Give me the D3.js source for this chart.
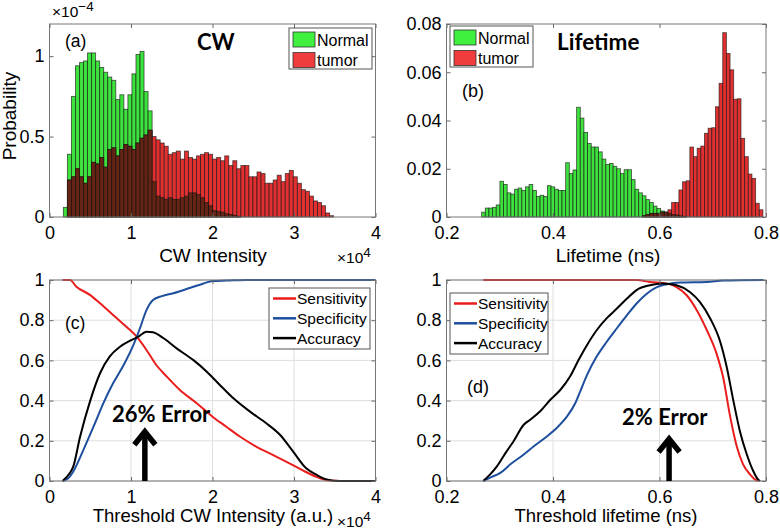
<!DOCTYPE html>
<html>
<head>
<meta charset="utf-8">
<script src="https://cdn.jsdelivr.net/npm/d3@7"></script>
<style>
  body { margin: 0; background: #fff; }
  text { font-family: "Liberation Sans", Arial, sans-serif; }
  .bold { font-family: Lato, "Open Sans", sans-serif; font-weight: bold; }
</style>
</head>
<body>
<svg id="chart" width="780" height="531"></svg>
<script>
// ---- data ----

// (a) CW intensity histograms, probability in units of 1e-4
var cwBinStart = 1700, cwBinWidth = 495;
var cwNormal = [0.06, 0.39, 0.75, 0.94, 0.96, 0.97, 1.02, 1.02, 0.97, 0.93, 0.90, 0.87, 0.85, 0.73, 0.76, 0.67,
  0.76, 0.89, 1.01, 1.03, 0.78, 0.66, 0.22, 0.13, 0.12, 0.11, 0.12, 0.11, 0.11, 0.12, 0.13, 0.15, 0.15, 0.14,
  0.12, 0.09, 0.07, 0.04, 0.035, 0.03, 0.02, 0.015, 0.01, 0.005];
var cwTumor = [0, 0.23, 0.25, 0.30, 0.25, 0.21, 0.25, 0.34, 0.33, 0.37, 0.31, 0.42, 0.43, 0.38, 0.42, 0.45, 0.44,
  0.42, 0.46, 0.49, 0.51, 0.54, 0.50, 0.48, 0.46, 0.44, 0.39, 0.40, 0.41, 0.36, 0.41, 0.37, 0.36, 0.38, 0.39,
  0.40, 0.39, 0.36, 0.37, 0.35, 0.38, 0.32, 0.35, 0.30, 0.32, 0.32, 0.25, 0.25, 0.28, 0.27, 0.21, 0.21, 0.23,
  0.26, 0.22, 0.27, 0.29, 0.25, 0.21, 0.17, 0.16, 0.13, 0.10, 0.09, 0.07, 0.025, 0.008];

// (b) lifetime histograms
var ltBinStart = 0.266, ltBinWidth = 0.00686;
var ltNormal = [0.002, 0.0037, 0.0037, 0.0040, 0.0050, 0.0148, 0.0135, 0.0100, 0.0095, 0.0115, 0.0120, 0.0110,
  0.0125, 0.0135, 0.0110, 0.0085, 0.0090, 0.0085, 0.0130, 0.0125, 0.0115, 0.0110, 0.0110, 0.0225, 0.0180,
  0.0195, 0.0455, 0.0410, 0.0350, 0.0305, 0.0290, 0.0290, 0.0270, 0.0240, 0.0218, 0.0222, 0.0210, 0.0200,
  0.0180, 0.0196, 0.0196, 0.0155, 0.0115, 0.0100, 0.0088, 0.0072, 0.0060, 0.0045, 0.0035, 0.0025, 0.0020,
  0.0015, 0.0010, 0.0008, 0.0005, 0.0003];
var ltTumor = [0, 0, 0, 0, 0, 0, 0, 0, 0, 0, 0, 0, 0, 0, 0, 0, 0, 0, 0, 0, 0, 0, 0, 0, 0, 0, 0, 0, 0, 0, 0, 0,
  0, 0, 0, 0, 0, 0, 0, 0, 0, 0, 0, 0, 0.0005, 0.001, 0.0015, 0.0015, 0.0015, 0.002, 0.002, 0.003,
  0.006, 0.006, 0.0112, 0.0146, 0.015, 0.029, 0.025, 0.0285, 0.0294, 0.0347, 0.0368, 0.037, 0.0457, 0.0554,
  0.0764, 0.0678, 0.061, 0.0488, 0.049, 0.0326, 0.025, 0.0178, 0.016, 0.0057, 0.003];

// (c) threshold on CW intensity: [threshold, value]
var cwSens = [[1600, 1], [2500, 1], [3300, 0.967], [5000, 0.925], [6200, 0.884], [7800, 0.826], [9500, 0.765],
  [10700, 0.718], [11900, 0.652], [13100, 0.577], [14400, 0.519], [16000, 0.453], [18100, 0.386], [20000, 0.32],
  [21700, 0.27], [23400, 0.22], [25400, 0.17], [27400, 0.13], [29800, 0.08], [31400, 0.046], [33000, 0.017],
  [34400, 0.002], [35600, 0], [40000, 0]];
var cwSpec = [[1600, 0], [2300, 0.013], [2900, 0.046], [4150, 0.154], [5400, 0.27], [6600, 0.386], [7800, 0.486],
  [9100, 0.577], [10300, 0.677], [11100, 0.76], [11900, 0.85], [12700, 0.90], [13800, 0.92], [15200, 0.934],
  [17200, 0.96], [18900, 0.983], [20000, 0.995], [21700, 0.997], [24200, 1], [40000, 1]];
var cwAcc = [[1600, 0], [2500, 0.04], [2900, 0.07], [3750, 0.22], [5000, 0.40], [6200, 0.536], [7400, 0.62],
  [8650, 0.668], [9900, 0.698], [10900, 0.718], [11900, 0.743], [12700, 0.74], [14000, 0.71], [15600, 0.66],
  [17700, 0.60], [19300, 0.544], [20900, 0.478], [22600, 0.41], [24600, 0.345], [26600, 0.287], [28300, 0.229],
  [29900, 0.146], [31500, 0.063], [32800, 0.03], [34000, 0.008], [35600, 0], [40000, 0]];

// (d) threshold on lifetime
var ltSens = [[0.269, 1], [0.557, 1], [0.582, 0.99], [0.614, 0.982], [0.632, 0.965], [0.651, 0.924], [0.67, 0.85],
  [0.689, 0.75], [0.707, 0.635], [0.72, 0.51], [0.732, 0.33], [0.745, 0.173], [0.757, 0.083], [0.77, 0.033],
  [0.779, 0.008], [0.785, 0]];
var ltSpec = [[0.269, 0], [0.282, 0.017], [0.301, 0.04], [0.32, 0.083], [0.345, 0.132], [0.364, 0.173],
  [0.389, 0.223], [0.407, 0.264], [0.426, 0.32], [0.442, 0.388], [0.451, 0.445], [0.464, 0.528], [0.482, 0.619],
  [0.501, 0.693], [0.52, 0.76], [0.539, 0.825], [0.557, 0.883], [0.576, 0.932], [0.595, 0.965], [0.614, 0.979],
  [0.639, 0.987], [0.689, 0.99], [0.72, 0.997], [0.795, 1]];
var ltAcc = [[0.269, 0], [0.282, 0.033], [0.295, 0.074], [0.311, 0.14], [0.326, 0.198], [0.345, 0.28],
  [0.357, 0.305], [0.376, 0.347], [0.395, 0.404], [0.414, 0.454], [0.432, 0.52], [0.448, 0.602], [0.464, 0.677],
  [0.482, 0.75], [0.501, 0.81], [0.52, 0.858], [0.539, 0.908], [0.557, 0.95], [0.582, 0.974], [0.607, 0.982],
  [0.632, 0.974], [0.657, 0.94], [0.676, 0.89], [0.695, 0.81], [0.714, 0.693], [0.726, 0.57], [0.739, 0.396],
  [0.751, 0.248], [0.764, 0.132], [0.776, 0.05], [0.785, 0.008], [0.789, 0]];

// tick values
var cwTicks = [0, 10000, 20000, 30000, 40000];
var ltTicks = [0.2, 0.4, 0.6, 0.8];
var cwProbTicks = [0, 0.5, 1];
var ltProbTicks = [0, 0.02, 0.04, 0.06, 0.08];
var rateTicks = [0, 0.2, 0.4, 0.6, 0.8, 1];

// arrows: [x, tip value]
var cwArrow = [11700, 0.265];
var ltArrow = [0.618, 0.229];

var seriesNames = ['Sensitivity', 'Specificity', 'Accuracy'];
var histNames = ['Normal', 'tumor'];

// ---- layout / style ----
var svg = d3.select('#chart');
var panels = {
  a: {x0: 49.5, x1: 375.5, y0: 24, y1: 217},
  b: {x0: 446.5, x1: 766, y0: 24, y1: 217},
  c: {x0: 49.5, x1: 375.5, y0: 280, y1: 481},
  d: {x0: 446.5, x1: 766, y0: 280, y1: 481}
};
var green = '#3de23d', red = '#e23030', overlap = '#652414';
var lineColors = ['#ea1c1c', '#1d4f9e', '#000'];

function scales(p, xDom, yDom) {
  return {
    x: d3.scaleLinear().domain(xDom).range([p.x0, p.x1]),
    y: d3.scaleLinear().domain(yDom).range([p.y1, p.y0])
  };
}

function grid(p, s, xTicks, yTicks) {
  var g = svg.append('g');
  g.selectAll('.gx').data(xTicks).enter().append('line')
    .attr('x1', d => s.x(d)).attr('x2', d => s.x(d))
    .attr('y1', p.y0).attr('y2', p.y1)
    .attr('stroke', '#dedede').attr('stroke-width', 1);
  g.selectAll('.gy').data(yTicks).enter().append('line')
    .attr('y1', d => s.y(d)).attr('y2', d => s.y(d))
    .attr('x1', p.x0).attr('x2', p.x1)
    .attr('stroke', '#dedede').attr('stroke-width', 1);
}

function axes(p, s, xTicks, yTicks, xFmt, yFmt) {
  var style = function(sel) {
    sel.attr('font-size', 18).attr('font-family', '"Liberation Sans", Arial, sans-serif').attr('color', '#000');
    sel.select('.domain').remove();
    sel.selectAll('.tick line').attr('stroke', '#666');
  };
  svg.append('g').attr('transform', `translate(0,${p.y1})`)
    .call(d3.axisBottom(s.x).tickValues(xTicks).tickSize(-4).tickPadding(9).tickFormat(xFmt)).call(style);
  svg.append('g').attr('transform', `translate(0,${p.y0})`)
    .call(d3.axisTop(s.x).tickValues(xTicks).tickSize(-4).tickFormat('')).call(style);
  svg.append('g').attr('transform', `translate(${p.x0},0)`)
    .call(d3.axisLeft(s.y).tickValues(yTicks).tickSize(-4).tickPadding(5).tickFormat(yFmt)).call(style);
  svg.append('g').attr('transform', `translate(${p.x1},0)`)
    .call(d3.axisRight(s.y).tickValues(yTicks).tickSize(-4).tickFormat('')).call(style);
  svg.append('rect')
    .attr('x', p.x0).attr('y', p.y0).attr('width', p.x1 - p.x0).attr('height', p.y1 - p.y0)
    .attr('fill', 'none').attr('stroke', '#777').attr('stroke-width', 1);
}

function histogram(s, start, width, normal, tumor) {
  var n = Math.max(normal.length, tumor.length);
  var bins = d3.range(n).map(function(i) {
    var g = normal[i] || 0, r = tumor[i] || 0;
    return {x0: start + i * width, x1: start + (i + 1) * width, g: g, r: r, o: Math.min(g, r)};
  });
  [['g', green], ['r', red], ['o', overlap]].forEach(function(layer) {
    svg.append('g').selectAll('rect')
      .data(bins.filter(d => d[layer[0]] > 0))
      .enter().append('rect')
      .attr('x', d => s.x(d.x0))
      .attr('width', d => s.x(d.x1) - s.x(d.x0))
      .attr('y', d => s.y(d[layer[0]]))
      .attr('height', d => s.y(0) - s.y(d[layer[0]]))
      .attr('fill', layer[1])
      .attr('stroke', 'rgba(20,20,20,0.7)').attr('stroke-width', 0.85);
  });
}

function curves(s, list) {
  var line = d3.line().curve(d3.curveMonotoneX).x(d => s.x(d[0])).y(d => s.y(d[1]));
  list.forEach(function(data, i) {
    svg.append('path').datum(data)
      .attr('d', line).attr('fill', 'none')
      .attr('stroke', lineColors[i]).attr('stroke-width', 2);
  });
}

function histLegend(x, y) {
  var w = 83, h = 41;
  svg.append('rect').attr('x', x).attr('y', y).attr('width', w).attr('height', h)
    .attr('fill', '#fff').attr('stroke', '#555').attr('stroke-width', 1);
  histNames.forEach(function(name, i) {
    svg.append('rect').attr('x', x + 4).attr('y', y + 4 + i * 20.5).attr('width', 22).attr('height', 15)
      .attr('fill', i ? '#f03c3c' : '#3ff03f').attr('stroke', '#333').attr('stroke-width', 0.8);
    svg.append('text').attr('x', x + 28).attr('y', y + 17.5 + i * 20.5)
      .attr('font-size', 16).text(name);
  });
}

function lineLegend(x, y, w) {
  var h = 61;
  svg.append('rect').attr('x', x).attr('y', y).attr('width', w).attr('height', h)
    .attr('fill', '#fff').attr('stroke', '#555').attr('stroke-width', 1);
  seriesNames.forEach(function(name, i) {
    var yy = y + 10.5 + i * 19.8;
    svg.append('line').attr('x1', x + 4).attr('x2', x + 27).attr('y1', yy).attr('y2', yy)
      .attr('stroke', lineColors[i]).attr('stroke-width', 2.5);
    svg.append('text').attr('x', x + 28).attr('y', yy + 5.5).attr('font-size', 15.5).text(name);
  });
}

function arrow(s, a) {
  var x = s.x(a[0]), tip = s.y(a[1]), base = s.y(0);
  svg.append('line').attr('x1', x).attr('x2', x).attr('y1', base).attr('y2', tip + 4)
    .attr('stroke', '#000').attr('stroke-width', 5.5);
  svg.append('path')
    .attr('d', `M${x - 10.5},${tip + 17}L${x},${tip + 4}L${x + 10.5},${tip + 17}`)
    .attr('fill', 'none').attr('stroke', '#000').attr('stroke-width', 5.5)
    .attr('stroke-linejoin', 'miter').attr('stroke-miterlimit', 10);
}

function label(x, y, txt, size, cls, anchor) {
  return svg.append('text').attr('x', x).attr('y', y).attr('font-size', size)
    .attr('class', cls || null).attr('text-anchor', anchor || 'start').text(txt);
}

function exponent(x, y, pow) {
  var t = svg.append('text').attr('x', x).attr('y', y).attr('font-size', 15.5);
  t.append('tspan').text('\u00d710');
  t.append('tspan').attr('dy', -6).attr('font-size', 13.5).text(pow);
}

var intFmt = d => d3.format('~g')(d / 10000);
var plainFmt = d => d3.format('~g')(d);
var prob2Fmt = d => d === 0 ? '0' : d3.format('.2f')(d);

// ---- (a) CW histogram ----
var pa = panels.a, sa = scales(pa, [0, 40000], [0, 1.2]);
histogram(sa, cwBinStart, cwBinWidth, cwNormal, cwTumor);
axes(pa, sa, cwTicks, cwProbTicks, intFmt, plainFmt);
histLegend(289, 28);
label(65, 47, '(a)', 17.5);
label(197, 50, 'CW', 22, 'bold');
exponent(52, 17, '\u22124');
exponent(337, 263, '4');
label(213, 262, 'CW Intensity', 19, null, 'middle');
svg.append('text').attr('transform', 'translate(16,116) rotate(-90)')
  .attr('text-anchor', 'middle').attr('font-size', 19).text('Probability');

// ---- (b) lifetime histogram ----
var pb = panels.b, sb = scales(pb, [0.2, 0.8], [0, 0.08]);
histogram(sb, ltBinStart, ltBinWidth, ltNormal, ltTumor);
axes(pb, sb, ltTicks, ltProbTicks, plainFmt, prob2Fmt);
histLegend(450, 26);
label(462, 97, '(b)', 18);
label(557, 50, 'Lifetime', 22.5, 'bold');
label(608, 262, 'Lifetime (ns)', 19, null, 'middle');

// ---- (c) CW threshold ----
var pc = panels.c, sc = scales(pc, [0, 40000], [0, 1]);
grid(pc, sc, cwTicks, rateTicks);
curves(sc, [cwSens, cwSpec, cwAcc]);
axes(pc, sc, cwTicks, rateTicks, intFmt, plainFmt);
lineLegend(269, 288, 101);
label(65, 329, '(c)', 17.5);
label(112, 422, '26% Error', 22, 'bold');
arrow(sc, cwArrow);
exponent(337, 527, '4');
label(213, 522, 'Threshold CW Intensity (a.u.)', 18.5, null, 'middle');

// ---- (d) lifetime threshold ----
var pd = panels.d, sd = scales(pd, [0.2, 0.8], [0, 1]);
grid(pd, sd, ltTicks, rateTicks);
curves(sd, [ltSens, ltSpec, ltAcc]);
axes(pd, sd, ltTicks, rateTicks, plainFmt, plainFmt);
lineLegend(450, 293, 98);
label(467, 393, '(d)', 18);
label(622, 425, '2% Error', 22, 'bold');
arrow(sd, ltArrow);
label(606, 522, 'Threshold lifetime (ns)', 18.5, null, 'middle');
</script>
</body>
</html>
